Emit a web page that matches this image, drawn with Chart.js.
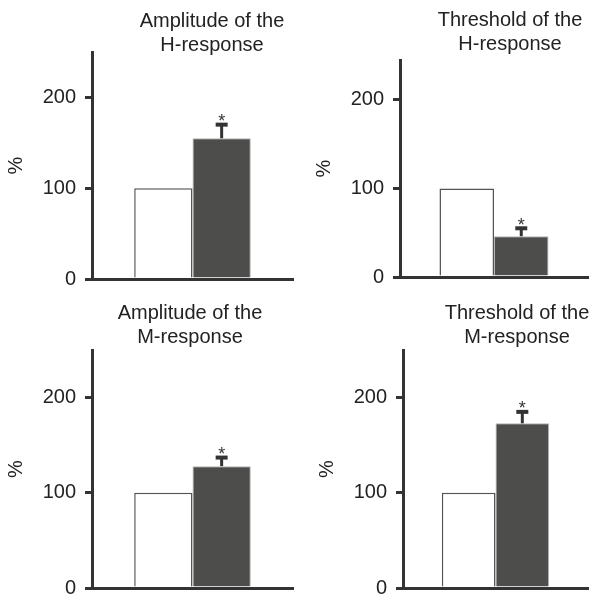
<!DOCTYPE html>
<html lang="en">
<head>
    <meta charset="UTF-8">
    <title>H- and M-response</title>
    <script src="https://cdn.jsdelivr.net/npm/chart.js@4.4.1/dist/chart.umd.min.js"></script>
    <style>
        body { margin: 0; background: #fff; }
        .figure { position: relative; width: 591px; height: 609px; font-family: "Liberation Sans", Arial, sans-serif; }
        .panel { position: absolute; }
        .panel-title { position: absolute; width: 220px; text-align: center; font-size: 20px; line-height: 24px; color: #222; }
    </style>
</head>
<body>
    <div class="figure" id="figure"></div>

    <script>
        // values (% of control)
        const panelTitles = [
            ["Amplitude of the", "H-response"],
            ["Threshold of the", "H-response"],
            ["Amplitude of the", "M-response"],
            ["Threshold of the", "M-response"]
        ];
        const controlValues = [100, 100, 100, 100];
        const treatedValues = [155, 46, 128, 173];
        const errorTops = [170, 55, 137, 185];
        const axisMax = [250, 245, 250, 250];
        const yTicks = [0, 100, 200];

        // where each panel sits on the page
        const layouts = [
            { x: 0,   y: 0,   w: 300, h: 300, left: 92,  right: 293, top: 52, bottom: 279, titleX: 212, titleY: 8 },
            { x: 300, y: 0,   w: 291, h: 300, left: 100, right: 288, top: 60, bottom: 277, titleX: 210, titleY: 7 },
            { x: 0,   y: 300, w: 300, h: 309, left: 92,  right: 293, top: 50, bottom: 300, titleX: 190, titleY: 0 },
            { x: 300, y: 300, w: 291, h: 309, left: 103, right: 288, top: 50, bottom: 300, titleX: 217, titleY: 0 }
        ];

        const AXIS = "#333333";
        const FONT = "'Liberation Sans', Arial, sans-serif";

        // error bar (upper half only) plus significance star on the treated bar
        const errorBars = {
            id: "errorBars",
            afterDatasetsDraw(chart, args, opts) {
                const bar = chart.getDatasetMeta(1).data[0];
                const top = chart.scales.y.getPixelForValue(opts.top);
                const ctx = chart.ctx;
                ctx.save();
                ctx.strokeStyle = AXIS;
                ctx.lineWidth = 3;
                ctx.beginPath();
                ctx.moveTo(bar.x, bar.y);
                ctx.lineTo(bar.x, top);
                ctx.stroke();
                ctx.lineWidth = 4;
                ctx.beginPath();
                ctx.moveTo(bar.x - 6, top);
                ctx.lineTo(bar.x + 6, top);
                ctx.stroke();
                ctx.fillStyle = AXIS;
                ctx.font = "18px " + FONT;
                ctx.textAlign = "center";
                ctx.textBaseline = "alphabetic";
                ctx.fillText("*", bar.x, top - 8 + 18 * 0.58);
                ctx.restore();
            }
        };

        const fig = document.getElementById("figure");

        layouts.forEach((L, i) => {
            const box = document.createElement("div");
            box.className = "panel";
            box.style.left = L.x + "px";
            box.style.top = L.y + "px";
            box.style.width = L.w + "px";
            box.style.height = L.h + "px";

            const canvas = document.createElement("canvas");
            canvas.width = L.w;
            canvas.height = L.h;
            box.appendChild(canvas);

            const title = document.createElement("div");
            title.className = "panel-title";
            title.style.left = (L.titleX - 110) + "px";
            title.style.top = L.titleY + "px";
            title.innerHTML = panelTitles[i].join("<br>");
            box.appendChild(title);

            fig.appendChild(box);

            new Chart(canvas, {
                type: "bar",
                data: {
                    labels: [panelTitles[i].join(" ")],
                    datasets: [
                        {
                            label: "Control",
                            data: [controlValues[i]],
                            backgroundColor: "#ffffff",
                            borderColor: "#555555",
                            borderWidth: 1.5
                        },
                        {
                            label: "Treated",
                            data: [treatedValues[i]],
                            backgroundColor: "#4d4d4b",
                            borderColor: "#b5b5b5",
                            borderWidth: 1
                        }
                    ]
                },
                options: {
                    responsive: false,
                    animation: false,
                    categoryPercentage: 0.58,
                    barPercentage: 1.0,
                    layout: {
                        padding: { left: L.left - 92, right: L.w - L.right, top: L.top, bottom: L.h - L.bottom }
                    },
                    plugins: {
                        legend: { display: false },
                        tooltip: { enabled: false },
                        title: { display: false },
                        errorBars: { top: errorTops[i] }
                    },
                    scales: {
                        x: {
                            ticks: { display: false },
                            grid: { display: false },
                            border: { display: true, color: AXIS, width: 3 },
                            afterFit(scale) { scale.height = 0; }
                        },
                        y: {
                            min: 0,
                            max: axisMax[i],
                            afterFit(scale) { scale.width = 92; },
                            afterBuildTicks(scale) {
                                scale.ticks = yTicks.map(v => ({ value: v }));
                            },
                            ticks: {
                                stepSize: 100,
                                padding: 9,
                                color: "#222",
                                font: { family: FONT, size: 20 }
                            },
                            grid: {
                                drawOnChartArea: false,
                                drawTicks: true,
                                tickLength: 7,
                                color: AXIS,
                                lineWidth: 3
                            },
                            border: { display: true, color: AXIS, width: 3 },
                            title: {
                                display: true,
                                text: "%",
                                color: "#222",
                                padding: 4,
                                font: { family: FONT, size: 20 }
                            }
                        }
                    }
                },
                plugins: [errorBars]
            });
        });
    </script>
</body>
</html>
